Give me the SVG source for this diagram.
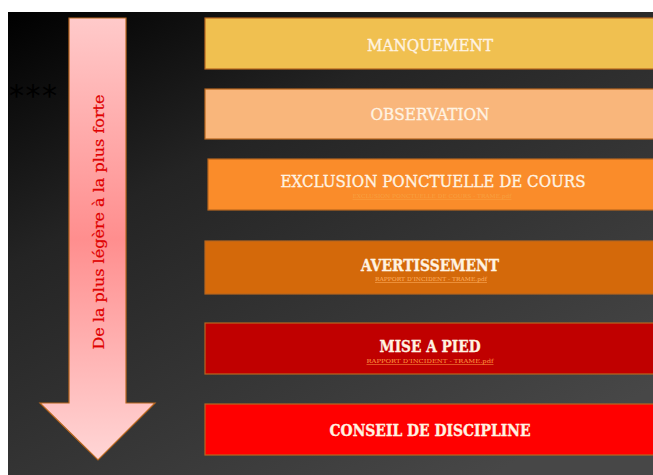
<svg xmlns="http://www.w3.org/2000/svg" width="653" height="475" viewBox="0 0 653 475">
<defs>
<linearGradient id="bg" x1="0" y1="0" x2="0.75" y2="1">
<stop offset="0" stop-color="#000"/>
<stop offset="0.35" stop-color="#242424"/>
<stop offset="1" stop-color="#474747"/>
</linearGradient>
<linearGradient id="arr" x1="0" y1="0" x2="0" y2="1">
<stop offset="0" stop-color="#FFCACA"/>
<stop offset="0.5" stop-color="#FF8E8E"/>
<stop offset="1" stop-color="#FFD6D6"/>
</linearGradient>
<style>
.box{stroke:#B8661E;stroke-width:1.2}
.t{font-family:"DejaVu Serif","Liberation Serif",serif;fill:#FFF3E2;text-anchor:middle;stroke:#FFF3E2;stroke-width:0.35}
.s{font-family:"DejaVu Serif","Liberation Serif",serif;font-size:5.5px;text-anchor:middle;text-decoration:underline}
</style>
</defs>
<rect x="0" y="0" width="653" height="475" fill="#fff"/>
<rect x="8" y="12" width="645" height="463" fill="url(#bg)"/>
<text x="9" y="106" font-family="DejaVu Sans,sans-serif" font-size="30" letter-spacing="1.5" fill="#000">***</text>
<g id="arrow">
<path d="M69,18 H126 V403 H155 L98,460 L40,403 H69 Z" fill="url(#arr)" stroke="#B8661E" stroke-width="1.2"/>
<text transform="translate(104,222) rotate(-90)" class="t" style="fill:#E00000;stroke:#E00000;stroke-width:0.2" font-size="15.5" textLength="255" lengthAdjust="spacingAndGlyphs">De la plus légère à la plus forte</text>
</g>
<g id="n1">
<rect class="box" x="205" y="18" width="452" height="51" fill="#F0C050"/>
<text class="t" x="430" y="51" font-size="17" textLength="126" lengthAdjust="spacingAndGlyphs">MANQUEMENT</text>
</g>
<g id="n2">
<rect class="box" x="205" y="89" width="452" height="50" fill="#F9B67B"/>
<text class="t" x="430" y="120" font-size="17" textLength="119" lengthAdjust="spacingAndGlyphs">OBSERVATION</text>
</g>
<g id="n3">
<rect class="box" x="208" y="159" width="449" height="51" fill="#FA8C2A"/>
<text class="t" x="433" y="187" font-size="17" textLength="305" lengthAdjust="spacingAndGlyphs">EXCLUSION PONCTUELLE DE COURS</text>
<text class="s" x="432" y="198" fill="#F8A040" textLength="159" lengthAdjust="spacingAndGlyphs">EXCLUSION PONCTUELLE DE COURS - TRAME.pdf</text>
</g>
<g id="n4">
<rect class="box" x="205" y="241" width="452" height="53" fill="#D4690A"/>
<text class="t" x="430" y="271" font-size="17" font-weight="bold" textLength="138" lengthAdjust="spacingAndGlyphs">AVERTISSEMENT</text>
<text class="s" x="431" y="281" fill="#FFB060" textLength="112" lengthAdjust="spacingAndGlyphs">RAPPORT D'INCIDENT - TRAME.pdf</text>
</g>
<g id="n5">
<rect class="box" x="205" y="323" width="452" height="51" fill="#C00000"/>
<text class="t" x="430" y="352" font-size="17" font-weight="bold" textLength="101" lengthAdjust="spacingAndGlyphs">MISE A PIED</text>
<text class="s" x="430" y="363" fill="#FF9A40" textLength="127" lengthAdjust="spacingAndGlyphs">RAPPORT D'INCIDENT - TRAME.pdf</text>
</g>
<g id="n6">
<rect class="box" x="205" y="404" width="452" height="51" fill="#FF0000"/>
<text class="t" x="430" y="436" font-size="16" font-weight="bold" textLength="201" lengthAdjust="spacingAndGlyphs">CONSEIL DE DISCIPLINE</text>
</g>
<g id="connectors"></g>
</svg>
